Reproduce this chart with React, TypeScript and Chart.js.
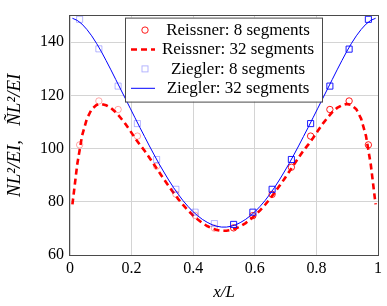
import React, { useEffect, useRef } from 'react';
import { Chart, registerables } from 'chart.js';

Chart.register(...registerables);

const xTickLabels = ['0', '0.2', '0.4', '0.6', '0.8', '1'];
const legendLabels = ['Reissner: 8 segments', 'Reissner: 32 segments', 'Ziegler: 8 segments', 'Ziegler: 32 segments'];

// sample positions: 8 segments -> 16 points, 32 segments -> 64 points
const x8 = Array.from({ length: 16 }, (_, k) => (2 * k + 1) / 32);
const x32 = Array.from({ length: 64 }, (_, k) => (2 * k + 1) / 128);

const reissner8 = [101.4, 117.9, 114.7, 104.7, 93.4, 82.9, 74.9, 70.1, 70.2, 74.8, 82.8, 93.0, 104.7, 114.7, 117.9, 101.4];
const ziegler8 = [148.6, 137.5, 123.5, 109.4, 95.9, 84.7, 76.1, 71.8, 71.5, 76.1, 84.7, 95.9, 109.4, 123.5, 137.4, 148.6];

const reissner32 = [
  79.0, 94.0, 104.8, 111.2, 114.8, 116.4, 116.8, 116.3, 115.3, 113.7, 111.6, 109.3, 106.7, 104.0, 101.5, 99.2,
  96.6, 93.9, 91.2, 88.5, 85.9, 83.4, 81.0, 78.8, 76.8, 75.0, 73.4, 72.0, 70.9, 70.0, 69.4, 69.1,
  69.1, 69.4, 70.0, 70.9, 72.0, 73.4, 75.0, 76.8, 78.8, 81.0, 83.4, 85.9, 88.5, 91.2, 93.9, 96.6,
  99.2, 101.5, 104.0, 106.7, 109.3, 111.6, 113.7, 115.3, 116.3, 116.8, 116.4, 114.8, 111.2, 104.8, 94.0, 79.0,
];
const ziegler32 = [
  149.0, 148.2, 146.8, 144.8, 142.4, 139.6, 136.5, 133.1, 129.6, 126.0, 122.4, 118.8, 115.2, 111.6, 108.0, 104.5,
  101.0, 97.6, 94.3, 91.2, 88.2, 85.4, 82.8, 80.4, 78.3, 76.4, 74.8, 73.4, 72.3, 71.4, 70.8, 70.5,
  70.5, 70.8, 71.4, 72.3, 73.4, 74.8, 76.4, 78.3, 80.4, 82.8, 85.4, 88.2, 91.2, 94.3, 97.6, 101.0,
  104.5, 108.0, 111.6, 115.2, 118.8, 122.4, 126.0, 129.6, 133.1, 136.5, 139.6, 142.4, 144.8, 146.8, 148.2, 149.0,
];

const RED = '#ff0000';
const RED_FADED = 'rgba(255,0,0,0.38)';
const BLUE = '#0000ff';
const BLUE_FADED = 'rgba(0,0,255,0.32)';
const SERIF = "'Liberation Serif', 'Times New Roman', serif";

const frameLegendPlugin = {
  id: 'frameLegend',
  afterDatasetsDraw(chart: any) {
    const { ctx, chartArea: ca } = chart;
    ctx.save();
    ctx.strokeStyle = '#4a4a4a';
    ctx.lineWidth = 1;
    ctx.strokeRect(Math.round(ca.left) - 0.5, Math.round(ca.top) - 0.5, Math.round(ca.right - ca.left) + 1, Math.round(ca.bottom - ca.top) + 1);
    ctx.restore();
  },
  afterDraw(chart: any) {
    const { ctx, chartArea: ca } = chart;
    const lx = ca.left + 55;
    const ly = ca.top + 2;
    const lw = 197;
    const lh = 84;
    ctx.save();
    ctx.fillStyle = '#ffffff';
    ctx.fillRect(lx, ly, lw, lh);
    ctx.strokeStyle = '#4a4a4a';
    ctx.lineWidth = 1;
    ctx.strokeRect(lx + 0.5, ly + 0.5, lw, lh);
    const sx = lx + 20;
    legendLabels.forEach((label, i) => {
      const y = ly + 12.5 + i * 19.4;
      ctx.save();
      if (i === 0) {
        ctx.strokeStyle = RED;
        ctx.lineWidth = 0.9;
        ctx.beginPath();
        ctx.arc(sx, y, 3.2, 0, Math.PI * 2);
        ctx.stroke();
      } else if (i === 1) {
        ctx.strokeStyle = RED;
        ctx.lineWidth = 2.6;
        ctx.setLineDash([6, 4]);
        ctx.beginPath();
        ctx.moveTo(lx + 6, y);
        ctx.lineTo(lx + 30, y);
        ctx.stroke();
      } else if (i === 2) {
        ctx.strokeStyle = BLUE_FADED;
        ctx.lineWidth = 0.9;
        ctx.strokeRect(sx - 3, y - 3, 6, 6);
      } else {
        ctx.strokeStyle = BLUE;
        ctx.lineWidth = 1;
        ctx.beginPath();
        ctx.moveTo(lx + 6, y);
        ctx.lineTo(lx + 30, y);
        ctx.stroke();
      }
      ctx.restore();
      ctx.fillStyle = '#000';
      ctx.font = `17px ${SERIF}`;
      ctx.textAlign = 'center';
      ctx.textBaseline = 'middle';
      ctx.fillText(label, lx + 113, y + 0.5);
    });
    ctx.restore();
  },
};

export default function App() {
  const canvasRef = useRef<HTMLCanvasElement | null>(null);

  useEffect(() => {
    document.body.style.margin = '0';
    const canvas = canvasRef.current;
    if (!canvas) return;
    const fade = (xs: number[], strong: string, faded: string) => xs.map((x) => (x < 0.5 ? faded : strong));
    const chart = new Chart(canvas, {
      type: 'scatter',
      data: {
        datasets: [
          {
            label: legendLabels[0],
            data: x8.map((x, i) => ({ x, y: reissner8[i] })),
            pointStyle: 'circle',
            pointRadius: 3.2,
            pointBorderWidth: 0.9,
            pointBorderColor: fade(x8, RED, RED_FADED),
            pointBackgroundColor: 'rgba(0,0,0,0)',
            showLine: false,
            order: 4,
          },
          {
            label: legendLabels[1],
            data: x32.map((x, i) => ({ x, y: reissner32[i] })),
            showLine: true,
            borderColor: RED,
            borderWidth: 2.6,
            borderDash: [6, 4],
            pointRadius: 0,
            tension: 0,
            order: 3,
          },
          {
            label: legendLabels[2],
            data: x8.map((x, i) => ({ x, y: ziegler8[i] })),
            pointStyle: 'rect',
            pointRadius: 4.3,
            pointBorderWidth: 0.9,
            pointBorderColor: fade(x8, BLUE, BLUE_FADED),
            pointBackgroundColor: 'rgba(0,0,0,0)',
            showLine: false,
            order: 2,
          },
          {
            label: legendLabels[3],
            data: x32.map((x, i) => ({ x, y: ziegler32[i] })),
            showLine: true,
            borderColor: BLUE,
            borderWidth: 1,
            pointRadius: 0,
            tension: 0,
            order: 1,
          },
        ],
      },
      options: {
        responsive: false,
        animation: false,
        devicePixelRatio: 1,
        layout: { padding: { top: 1, right: 9, left: 0, bottom: 0 } },
        plugins: { legend: { display: false }, tooltip: { enabled: false } },
        scales: {
          x: {
            type: 'linear',
            min: 0,
            max: 1,
            afterFit: (scale: any) => {
              scale.height = 51;
            },
            ticks: {
              stepSize: 0.2,
              padding: 4,
              maxRotation: 0,
              autoSkip: false,
              color: '#000',
              font: { family: SERIF, size: 16 },
              callback: (_v: any, i: number) => xTickLabels[i],
            },
            grid: { color: '#d4d4d4', drawTicks: false, lineWidth: 1 },
            border: { display: false },
            title: {
              display: true,
              text: 'x/L',
              color: '#000',
              font: { family: SERIF, size: 17, style: 'italic' },
              padding: { top: 0, bottom: 3.5 },
            },
          },
          y: {
            type: 'linear',
            min: 60,
            max: 150,
            afterFit: (scale: any) => {
              scale.width = 70;
            },
            ticks: {
              stepSize: 20,
              includeBounds: false,
              padding: 6,
              color: '#000',
              font: { family: SERIF, size: 16 },
            },
            grid: { color: '#d4d4d4', drawTicks: false, lineWidth: 1 },
            border: { display: false },
            title: {
              display: true,
              text: 'NL²/EI,   ÑL²/EI',
              color: '#000',
              font: { family: SERIF, size: 19, style: 'italic' },
              padding: { top: 4, bottom: 0 },
            },
          },
        },
      },
      plugins: [frameLegendPlugin],
    } as any);
    return () => chart.destroy();
  }, []);

  return (
    <div style={{ width: 387, height: 306 }}>
      <canvas ref={canvasRef} width={387} height={306} style={{ display: 'block' }} />
    </div>
  );
}
